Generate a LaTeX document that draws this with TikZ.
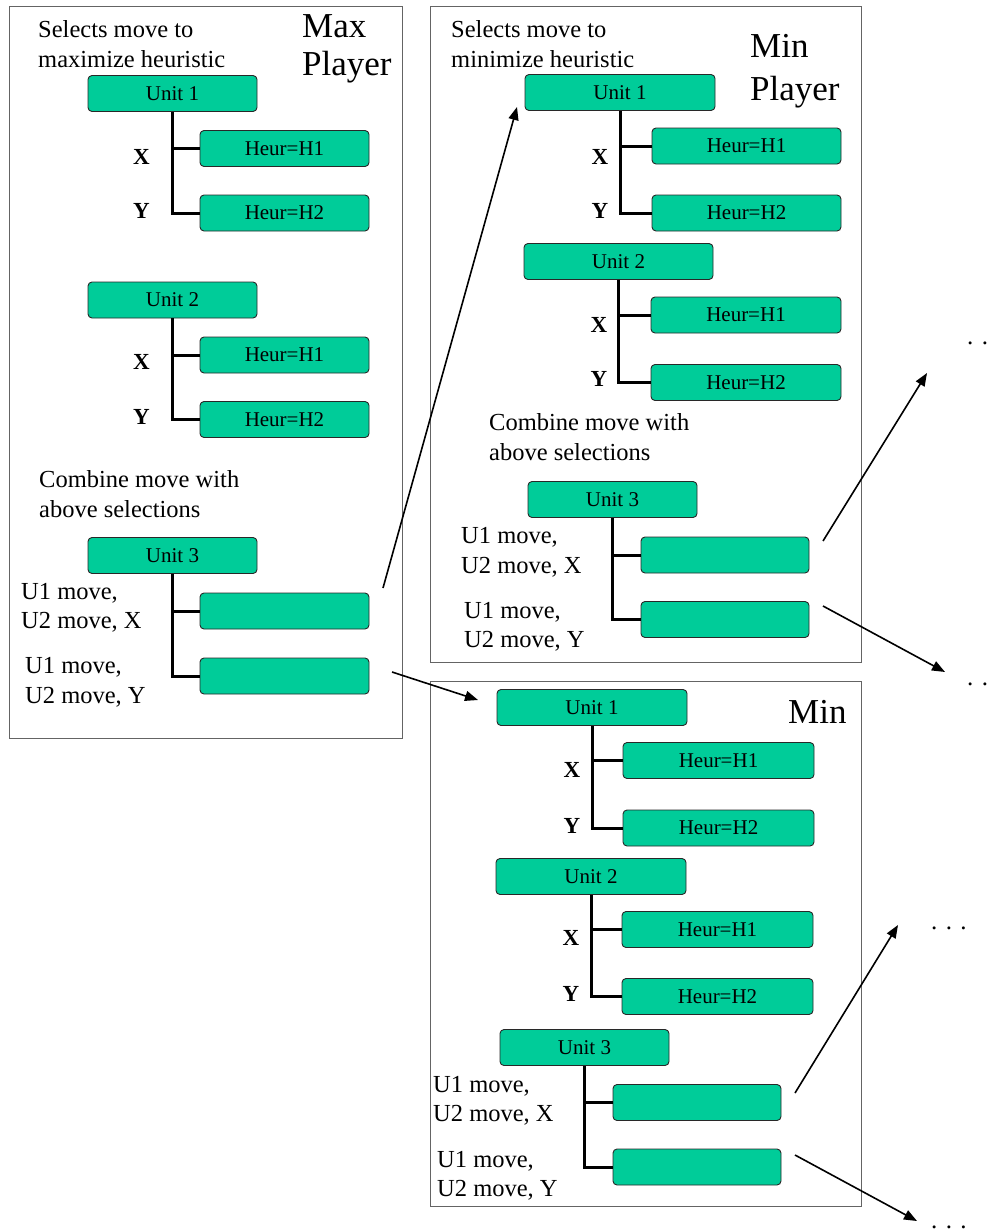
\documentclass[tikz,border=0pt]{standalone}
\usepackage{fontspec}
\setmainfont{Liberation Serif}
\usetikzlibrary{arrows.meta}
\definecolor{boxfill}{RGB}{0,204,153}
\definecolor{boxline}{RGB}{40,40,40}
\definecolor{framecol}{RGB}{100,100,100}
\tikzset{
  ubox/.style={draw=boxline, fill=boxfill, rounded corners=4pt, inner sep=0pt,
    minimum height=36pt, line width=0.9pt, font=\fontsize{21}{25}\selectfont},
  trunk/.style={line width=3pt},
  arr/.style={line width=1.6pt, -{Triangle[length=13pt,width=10pt]}},
  frame/.style={draw=framecol, line width=1pt},
  lbl/.style={inner sep=0pt, anchor=base west, font=\fontsize{24.5}{29}\selectfont},
  xy/.style={inner sep=0pt, anchor=base, font=\bfseries\fontsize{23}{27}\selectfont},
  big/.style={inner sep=0pt, anchor=base west, font=\fontsize{35}{40}\selectfont},
  dots/.style={inner sep=0pt, anchor=base west, text depth=0pt, text height=4pt, font=\fontsize{25}{30}\selectfont},
}
\begin{document}
\begin{tikzpicture}[x=1pt,y=-1pt]
\useasboundingbox (0,0) rectangle (992,1231);

% ---------------- Panel 1 (Max Player)
\draw[frame] (9,7) rectangle (402,738);
\node[lbl] (p1t1) at (38,38) {Selects move to};
\node[lbl] (p1t2) at (38,67) {maximize heuristic};
\node[big] (p1max) at (302,38) {Max};
\node[big] (p1pl) at (302,75) {Player};

\node[ubox, minimum width=169pt] (au1) at (172.5,93.5) {Unit 1};
\node[ubox, minimum width=169pt] (au1h1) at (284.5,148.5) {Heur=H1};
\node[ubox, minimum width=169pt] (au1h2) at (284.5,213) {Heur=H2};
\draw[trunk] (au1.south) |- (au1h2.west);
\draw[trunk] (au1.south |- au1h1.west) -- (au1h1.west);
\node[xy] (au1x) at (141.5,164) {X};
\node[xy] (au1y) at (141.5,218) {Y};

\node[ubox, minimum width=169pt] (au2) at (172.5,300) {Unit 2};
\node[ubox, minimum width=169pt] (au2h1) at (284.5,355) {Heur=H1};
\node[ubox, minimum width=169pt] (au2h2) at (284.5,419.5) {Heur=H2};
\draw[trunk] (au2.south) |- (au2h2.west);
\draw[trunk] (au2.south |- au2h1.west) -- (au2h1.west);
\node[xy] (au2x) at (141.5,369) {X};
\node[xy] (au2y) at (141.5,424) {Y};

\node[lbl] (p1c1) at (39,487) {Combine move with};
\node[lbl] (p1c2) at (39,517) {above selections};
\node[ubox, minimum width=169pt] (au3) at (172.5,555.5) {Unit 3};
\node[ubox, minimum width=169pt] (au3e1) at (284.5,611) {};
\node[ubox, minimum width=169pt] (au3e2) at (284.5,676) {};
\draw[trunk] (au3.south) |- (au3e2.west);
\draw[trunk] (au3.south |- au3e1.west) -- (au3e1.west);
\node[lbl] (p1m1) at (21,599) {U1 move,};
\node[lbl] (p1m2) at (21,628) {U2 move, X};
\node[lbl] (p1m3) at (25,673) {U1 move,};
\node[lbl] (p1m4) at (25,703) {U2 move, Y};

% ---------------- Panel 2 (Min Player)
\draw[frame] (430,7) rectangle (861,662);
\node[lbl] (p2t1) at (451,38) {Selects move to};
\node[lbl] (p2t2) at (451,67) {minimize heuristic};
\node[big] (p2min) at (750,58) {Min};
\node[big] (p2pl) at (750,100) {Player};

\node[ubox, minimum width=190pt] (bu1) at (620,92.5) {Unit 1};
\node[ubox, minimum width=189pt] (bu1h1) at (746.5,146) {Heur=H1};
\node[ubox, minimum width=189pt] (bu1h2) at (746.5,213) {Heur=H2};
\draw[trunk] (bu1.south) |- (bu1h2.west);
\draw[trunk] (bu1.south |- bu1h1.west) -- (bu1h1.west);
\node[xy] (bu1x) at (600,164) {X};
\node[xy] (bu1y) at (600,218) {Y};

\node[ubox, minimum width=189pt] (bu2) at (618.5,261.5) {Unit 2};
\node[ubox, minimum width=190pt] (bu2h1) at (746,315) {Heur=H1};
\node[ubox, minimum width=190pt] (bu2h2) at (746,382.5) {Heur=H2};
\draw[trunk] (bu2.south) |- (bu2h2.west);
\draw[trunk] (bu2.south |- bu2h1.west) -- (bu2h1.west);
\node[xy] (bu2x) at (599,332) {X};
\node[xy] (bu2y) at (599,386) {Y};

\node[lbl] (p2c1) at (489,430) {Combine move with};
\node[lbl] (p2c2) at (489,460) {above selections};
\node[ubox, minimum width=169pt] (bu3) at (612.5,499.5) {Unit 3};
\node[ubox, minimum width=168pt] (bu3e1) at (725,555) {};
\node[ubox, minimum width=168pt] (bu3e2) at (725,619.5) {};
\draw[trunk] (bu3.south) |- (bu3e2.west);
\draw[trunk] (bu3.south |- bu3e1.west) -- (bu3e1.west);
\node[lbl] (p2m1) at (461,543) {U1 move,};
\node[lbl] (p2m2) at (461,573) {U2 move, X};
\node[lbl] (p2m3) at (464,618) {U1 move,};
\node[lbl] (p2m4) at (464,647) {U2 move, Y};

% ---------------- Panel 3 (Min)
\draw[frame] (430,681) rectangle (861,1206);
\node[big] (p3min) at (788,723) {Min};

\node[ubox, minimum width=190pt] (cu1) at (592,707.5) {Unit 1};
\node[ubox, minimum width=191pt] (cu1h1) at (718.5,760.5) {Heur=H1};
\node[ubox, minimum width=191pt] (cu1h2) at (718.5,828) {Heur=H2};
\draw[trunk] (cu1.south) |- (cu1h2.west);
\draw[trunk] (cu1.south |- cu1h1.west) -- (cu1h1.west);
\node[xy] (cu1x) at (572,777) {X};
\node[xy] (cu1y) at (572,833) {Y};

\node[ubox, minimum width=190pt] (cu2) at (591,876.5) {Unit 2};
\node[ubox, minimum width=191pt] (cu2h1) at (717.5,929.5) {Heur=H1};
\node[ubox, minimum width=191pt] (cu2h2) at (717.5,996.5) {Heur=H2};
\draw[trunk] (cu2.south) |- (cu2h2.west);
\draw[trunk] (cu2.south |- cu2h1.west) -- (cu2h1.west);
\node[xy] (cu2x) at (571,945) {X};
\node[xy] (cu2y) at (571,1001) {Y};

\node[ubox, minimum width=169pt] (cu3) at (584.5,1047.5) {Unit 3};
\node[ubox, minimum width=168pt] (cu3e1) at (697,1102.5) {};
\node[ubox, minimum width=168pt] (cu3e2) at (697,1167) {};
\draw[trunk] (cu3.south) |- (cu3e2.west);
\draw[trunk] (cu3.south |- cu3e1.west) -- (cu3e1.west);
\node[lbl] (p3m1) at (433,1092) {U1 move,};
\node[lbl] (p3m2) at (433,1121) {U2 move, X};
\node[lbl] (p3m3) at (437,1167) {U1 move,};
\node[lbl] (p3m4) at (437,1196) {U2 move, Y};

% ---------------- ellipses (the upper two run off the right edge)
\node[dots] (d1) at (967,344) {. .};
\node[dots] (d2) at (967,685) {. .};
\node[dots] (d3) at (931,929) {. . .};
\node[dots] (d4) at (931,1228) {. . .};

% ---------------- arrows
\coordinate (a1s) at (383,588);
\coordinate (a1e) at (517,107);
\coordinate (a2s) at (392,672);
\coordinate (a2e) at (478,700);
\coordinate (a3s) at (823,541);
\coordinate (a3e) at (927,373);
\coordinate (a4s) at (823,606);
\coordinate (a4e) at (945,672);
\coordinate (a5s) at (795,1093);
\coordinate (a5e) at (898,925);
\coordinate (a6s) at (795,1155);
\coordinate (a6e) at (917,1221);
\draw[arr] (a1s) -- (a1e);
\draw[arr] (a2s) -- (a2e);
\draw[arr] (a3s) -- (a3e);
\draw[arr] (a4s) -- (a4e);
\draw[arr] (a5s) -- (a5e);
\draw[arr] (a6s) -- (a6e);
\end{tikzpicture}
\end{document}
